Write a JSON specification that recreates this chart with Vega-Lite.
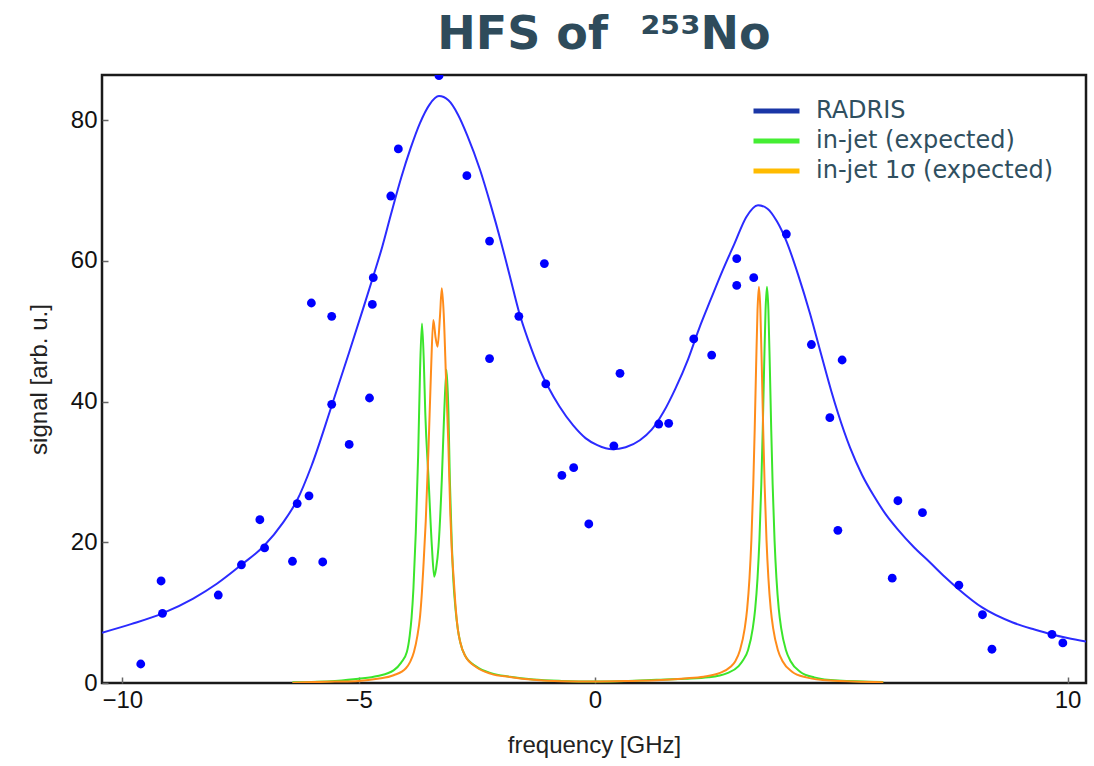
{
  "$schema": "https://vega.github.io/schema/vega-lite/v6.json",
  "width": 984,
  "height": 608,
  "autosize": "none",
  "padding": {"left": 102, "top": 75, "right": 8, "bottom": 83},
  "background": "white",
  "title": {
    "text": "HFS of\u2002\u2009²⁵³No",
    "font": "DejaVu Sans",
    "fontSize": 46,
    "fontWeight": "bold",
    "color": "#2e4b5b",
    "anchor": "middle",
    "dx": 10,
    "offset": 16
  },
  "config": {
    "view": {"stroke": "#1a1a1a", "strokeWidth": 2.5},
    "axis": {
      "grid": false,
      "domain": false,
      "labelFont": "Liberation Sans",
      "labelFontSize": 24,
      "labelColor": "#111",
      "titleFont": "Liberation Sans",
      "titleFontSize": 24,
      "titleFontWeight": "normal",
      "titleColor": "#222",
      "tickColor": "#666",
      "tickSize": 6,
      "tickWidth": 1.5,
      "offset": -6
    },
    "legend": {
      "orient": "none",
      "legendX": 649,
      "legendY": 21,
      "symbolType": "stroke",
      "symbolSize": 2116,
      "symbolStrokeWidth": 5,
      "symbolOpacity": 1,
      "labelFont": "DejaVu Sans",
      "labelFontSize": 24,
      "labelColor": "#2f4f5f",
      "labelOffset": 14,
      "labelLimit": 500,
      "clipHeight": 30,
      "rowPadding": 0,
      "title": null
    }
  },
  "datasets": {
    "curve": [
      {"s": "RADRIS", "f": -10.43, "v": 7.15},
      {"s": "RADRIS", "f": -9.8, "v": 8.4},
      {"s": "RADRIS", "f": -9.15, "v": 9.9},
      {"s": "RADRIS", "f": -8.5, "v": 12.0},
      {"s": "RADRIS", "f": -8.0, "v": 14.1},
      {"s": "RADRIS", "f": -7.48, "v": 16.8},
      {"s": "RADRIS", "f": -7.0, "v": 19.5},
      {"s": "RADRIS", "f": -6.6, "v": 22.8},
      {"s": "RADRIS", "f": -6.3, "v": 26.0},
      {"s": "RADRIS", "f": -6.0, "v": 30.8},
      {"s": "RADRIS", "f": -5.57, "v": 39.4},
      {"s": "RADRIS", "f": -5.2, "v": 47.0},
      {"s": "RADRIS", "f": -4.9, "v": 53.3},
      {"s": "RADRIS", "f": -4.69, "v": 57.8},
      {"s": "RADRIS", "f": -4.5, "v": 62.0},
      {"s": "RADRIS", "f": -4.32, "v": 66.5},
      {"s": "RADRIS", "f": -4.1, "v": 71.8},
      {"s": "RADRIS", "f": -3.9, "v": 76.0},
      {"s": "RADRIS", "f": -3.7, "v": 79.6},
      {"s": "RADRIS", "f": -3.5, "v": 82.2},
      {"s": "RADRIS", "f": -3.3, "v": 83.4},
      {"s": "RADRIS", "f": -3.1, "v": 82.8},
      {"s": "RADRIS", "f": -2.9, "v": 80.8},
      {"s": "RADRIS", "f": -2.7, "v": 77.8},
      {"s": "RADRIS", "f": -2.43, "v": 72.9},
      {"s": "RADRIS", "f": -2.2, "v": 67.8},
      {"s": "RADRIS", "f": -2.0, "v": 63.0},
      {"s": "RADRIS", "f": -1.8, "v": 57.8},
      {"s": "RADRIS", "f": -1.61, "v": 52.8},
      {"s": "RADRIS", "f": -1.4, "v": 48.5},
      {"s": "RADRIS", "f": -1.2, "v": 45.0},
      {"s": "RADRIS", "f": -1.0, "v": 42.2},
      {"s": "RADRIS", "f": -0.75, "v": 39.3},
      {"s": "RADRIS", "f": -0.46, "v": 36.6},
      {"s": "RADRIS", "f": -0.2, "v": 34.8},
      {"s": "RADRIS", "f": 0.05, "v": 33.8},
      {"s": "RADRIS", "f": 0.37, "v": 33.2},
      {"s": "RADRIS", "f": 0.65, "v": 33.5},
      {"s": "RADRIS", "f": 0.95, "v": 34.5},
      {"s": "RADRIS", "f": 1.2, "v": 36.0},
      {"s": "RADRIS", "f": 1.45, "v": 38.5},
      {"s": "RADRIS", "f": 1.7, "v": 41.8},
      {"s": "RADRIS", "f": 1.97, "v": 46.0},
      {"s": "RADRIS", "f": 2.2, "v": 50.3},
      {"s": "RADRIS", "f": 2.45, "v": 54.5},
      {"s": "RADRIS", "f": 2.7, "v": 58.6},
      {"s": "RADRIS", "f": 2.95, "v": 62.4},
      {"s": "RADRIS", "f": 3.2, "v": 66.2},
      {"s": "RADRIS", "f": 3.45, "v": 67.9},
      {"s": "RADRIS", "f": 3.65, "v": 67.4},
      {"s": "RADRIS", "f": 3.85, "v": 65.6},
      {"s": "RADRIS", "f": 4.05, "v": 62.8},
      {"s": "RADRIS", "f": 4.3, "v": 58.0},
      {"s": "RADRIS", "f": 4.55, "v": 52.5},
      {"s": "RADRIS", "f": 4.79, "v": 46.6},
      {"s": "RADRIS", "f": 5.0, "v": 41.5},
      {"s": "RADRIS", "f": 5.14, "v": 38.4},
      {"s": "RADRIS", "f": 5.4, "v": 33.4},
      {"s": "RADRIS", "f": 5.65, "v": 29.6},
      {"s": "RADRIS", "f": 5.9, "v": 26.6},
      {"s": "RADRIS", "f": 6.15, "v": 24.0},
      {"s": "RADRIS", "f": 6.41, "v": 21.8},
      {"s": "RADRIS", "f": 6.75, "v": 19.3},
      {"s": "RADRIS", "f": 7.08, "v": 17.2},
      {"s": "RADRIS", "f": 7.4, "v": 15.1},
      {"s": "RADRIS", "f": 7.7, "v": 13.3},
      {"s": "RADRIS", "f": 8.2, "v": 10.7},
      {"s": "RADRIS", "f": 8.84, "v": 8.6},
      {"s": "RADRIS", "f": 9.3, "v": 7.6},
      {"s": "RADRIS", "f": 9.67, "v": 6.9},
      {"s": "RADRIS", "f": 10.0, "v": 6.4},
      {"s": "RADRIS", "f": 10.39, "v": 5.9},

      {"s": "in-jet (expected)", "f": -6.4, "v": 0.1},
      {"s": "in-jet (expected)", "f": -5.5, "v": 0.3},
      {"s": "in-jet (expected)", "f": -5.0, "v": 0.6},
      {"s": "in-jet (expected)", "f": -4.6, "v": 1.0},
      {"s": "in-jet (expected)", "f": -4.26, "v": 1.8},
      {"s": "in-jet (expected)", "f": -4.1, "v": 2.9},
      {"s": "in-jet (expected)", "f": -3.98, "v": 4.4},
      {"s": "in-jet (expected)", "f": -3.92, "v": 6.7},
      {"s": "in-jet (expected)", "f": -3.88, "v": 9.3},
      {"s": "in-jet (expected)", "f": -3.84, "v": 13.5},
      {"s": "in-jet (expected)", "f": -3.79, "v": 21.5},
      {"s": "in-jet (expected)", "f": -3.74, "v": 32.5},
      {"s": "in-jet (expected)", "f": -3.7, "v": 44.5},
      {"s": "in-jet (expected)", "f": -3.66, "v": 51.1},
      {"s": "in-jet (expected)", "f": -3.62, "v": 45.5},
      {"s": "in-jet (expected)", "f": -3.59, "v": 38.4},
      {"s": "in-jet (expected)", "f": -3.52, "v": 28.9},
      {"s": "in-jet (expected)", "f": -3.45, "v": 19.4},
      {"s": "in-jet (expected)", "f": -3.4, "v": 15.1},
      {"s": "in-jet (expected)", "f": -3.36, "v": 16.3},
      {"s": "in-jet (expected)", "f": -3.31, "v": 19.4},
      {"s": "in-jet (expected)", "f": -3.24, "v": 28.9},
      {"s": "in-jet (expected)", "f": -3.19, "v": 38.3},
      {"s": "in-jet (expected)", "f": -3.14, "v": 44.5},
      {"s": "in-jet (expected)", "f": -3.1, "v": 38.5},
      {"s": "in-jet (expected)", "f": -3.07, "v": 28.9},
      {"s": "in-jet (expected)", "f": -3.03, "v": 20.0},
      {"s": "in-jet (expected)", "f": -3.0, "v": 15.1},
      {"s": "in-jet (expected)", "f": -2.95, "v": 10.5},
      {"s": "in-jet (expected)", "f": -2.9, "v": 7.6},
      {"s": "in-jet (expected)", "f": -2.85, "v": 5.8},
      {"s": "in-jet (expected)", "f": -2.75, "v": 3.9},
      {"s": "in-jet (expected)", "f": -2.5, "v": 2.3},
      {"s": "in-jet (expected)", "f": -2.2, "v": 1.4},
      {"s": "in-jet (expected)", "f": -1.8, "v": 0.9},
      {"s": "in-jet (expected)", "f": -1.3, "v": 0.5},
      {"s": "in-jet (expected)", "f": -0.7, "v": 0.3},
      {"s": "in-jet (expected)", "f": 0.0, "v": 0.22},
      {"s": "in-jet (expected)", "f": 0.7, "v": 0.3},
      {"s": "in-jet (expected)", "f": 1.3, "v": 0.45},
      {"s": "in-jet (expected)", "f": 1.9, "v": 0.6},
      {"s": "in-jet (expected)", "f": 2.4, "v": 0.8},
      {"s": "in-jet (expected)", "f": 2.8, "v": 1.4},
      {"s": "in-jet (expected)", "f": 3.04, "v": 2.4},
      {"s": "in-jet (expected)", "f": 3.14, "v": 3.3},
      {"s": "in-jet (expected)", "f": 3.24, "v": 4.7},
      {"s": "in-jet (expected)", "f": 3.34, "v": 7.8},
      {"s": "in-jet (expected)", "f": 3.39, "v": 10.5},
      {"s": "in-jet (expected)", "f": 3.44, "v": 14.9},
      {"s": "in-jet (expected)", "f": 3.48, "v": 20.3},
      {"s": "in-jet (expected)", "f": 3.52, "v": 28.2},
      {"s": "in-jet (expected)", "f": 3.55, "v": 36.0},
      {"s": "in-jet (expected)", "f": 3.58, "v": 45.0},
      {"s": "in-jet (expected)", "f": 3.61, "v": 53.0},
      {"s": "in-jet (expected)", "f": 3.64, "v": 56.3},
      {"s": "in-jet (expected)", "f": 3.67, "v": 53.0},
      {"s": "in-jet (expected)", "f": 3.7, "v": 45.0},
      {"s": "in-jet (expected)", "f": 3.73, "v": 36.0},
      {"s": "in-jet (expected)", "f": 3.76, "v": 28.2},
      {"s": "in-jet (expected)", "f": 3.8, "v": 20.3},
      {"s": "in-jet (expected)", "f": 3.84, "v": 14.9},
      {"s": "in-jet (expected)", "f": 3.89, "v": 10.5},
      {"s": "in-jet (expected)", "f": 3.94, "v": 7.8},
      {"s": "in-jet (expected)", "f": 4.04, "v": 4.7},
      {"s": "in-jet (expected)", "f": 4.14, "v": 3.1},
      {"s": "in-jet (expected)", "f": 4.34, "v": 1.6},
      {"s": "in-jet (expected)", "f": 4.64, "v": 0.8},
      {"s": "in-jet (expected)", "f": 5.14, "v": 0.35},
      {"s": "in-jet (expected)", "f": 6.1, "v": 0.15},

      {"s": "in-jet 1σ (expected)", "f": -6.4, "v": 0.05},
      {"s": "in-jet 1σ (expected)", "f": -5.5, "v": 0.2},
      {"s": "in-jet 1σ (expected)", "f": -5.0, "v": 0.3},
      {"s": "in-jet 1σ (expected)", "f": -4.6, "v": 0.6},
      {"s": "in-jet 1σ (expected)", "f": -4.26, "v": 1.1},
      {"s": "in-jet 1σ (expected)", "f": -4.0, "v": 2.1},
      {"s": "in-jet 1σ (expected)", "f": -3.91, "v": 3.0},
      {"s": "in-jet 1σ (expected)", "f": -3.83, "v": 4.4},
      {"s": "in-jet 1σ (expected)", "f": -3.76, "v": 6.6},
      {"s": "in-jet 1σ (expected)", "f": -3.7, "v": 9.5},
      {"s": "in-jet 1σ (expected)", "f": -3.66, "v": 13.0},
      {"s": "in-jet 1σ (expected)", "f": -3.63, "v": 16.5},
      {"s": "in-jet 1σ (expected)", "f": -3.58, "v": 23.0},
      {"s": "in-jet 1σ (expected)", "f": -3.52, "v": 33.6},
      {"s": "in-jet 1σ (expected)", "f": -3.47, "v": 44.0},
      {"s": "in-jet 1σ (expected)", "f": -3.42, "v": 51.6},
      {"s": "in-jet 1σ (expected)", "f": -3.37, "v": 49.0},
      {"s": "in-jet 1σ (expected)", "f": -3.33, "v": 47.8},
      {"s": "in-jet 1σ (expected)", "f": -3.28, "v": 52.0},
      {"s": "in-jet 1σ (expected)", "f": -3.24, "v": 56.1},
      {"s": "in-jet 1σ (expected)", "f": -3.2, "v": 52.5},
      {"s": "in-jet 1σ (expected)", "f": -3.15, "v": 43.0},
      {"s": "in-jet 1σ (expected)", "f": -3.1, "v": 33.6},
      {"s": "in-jet 1σ (expected)", "f": -3.06, "v": 24.0},
      {"s": "in-jet 1σ (expected)", "f": -3.03, "v": 19.0},
      {"s": "in-jet 1σ (expected)", "f": -2.99, "v": 15.0},
      {"s": "in-jet 1σ (expected)", "f": -2.95, "v": 11.0},
      {"s": "in-jet 1σ (expected)", "f": -2.9, "v": 7.6},
      {"s": "in-jet 1σ (expected)", "f": -2.85, "v": 5.8},
      {"s": "in-jet 1σ (expected)", "f": -2.75, "v": 3.9},
      {"s": "in-jet 1σ (expected)", "f": -2.5, "v": 2.2},
      {"s": "in-jet 1σ (expected)", "f": -2.2, "v": 1.3},
      {"s": "in-jet 1σ (expected)", "f": -1.8, "v": 0.85},
      {"s": "in-jet 1σ (expected)", "f": -1.3, "v": 0.45},
      {"s": "in-jet 1σ (expected)", "f": -0.7, "v": 0.25},
      {"s": "in-jet 1σ (expected)", "f": 0.0, "v": 0.2},
      {"s": "in-jet 1σ (expected)", "f": 0.7, "v": 0.28},
      {"s": "in-jet 1σ (expected)", "f": 1.3, "v": 0.4},
      {"s": "in-jet 1σ (expected)", "f": 1.9, "v": 0.65},
      {"s": "in-jet 1σ (expected)", "f": 2.3, "v": 0.9},
      {"s": "in-jet 1σ (expected)", "f": 2.63, "v": 1.4},
      {"s": "in-jet 1σ (expected)", "f": 2.87, "v": 2.3},
      {"s": "in-jet 1σ (expected)", "f": 2.97, "v": 3.1},
      {"s": "in-jet 1σ (expected)", "f": 3.07, "v": 4.7},
      {"s": "in-jet 1σ (expected)", "f": 3.17, "v": 7.8},
      {"s": "in-jet 1σ (expected)", "f": 3.22, "v": 10.5},
      {"s": "in-jet 1σ (expected)", "f": 3.27, "v": 14.9},
      {"s": "in-jet 1σ (expected)", "f": 3.31, "v": 20.3},
      {"s": "in-jet 1σ (expected)", "f": 3.35, "v": 28.2},
      {"s": "in-jet 1σ (expected)", "f": 3.38, "v": 36.0},
      {"s": "in-jet 1σ (expected)", "f": 3.41, "v": 45.0},
      {"s": "in-jet 1σ (expected)", "f": 3.44, "v": 53.0},
      {"s": "in-jet 1σ (expected)", "f": 3.47, "v": 56.3},
      {"s": "in-jet 1σ (expected)", "f": 3.5, "v": 53.0},
      {"s": "in-jet 1σ (expected)", "f": 3.53, "v": 45.0},
      {"s": "in-jet 1σ (expected)", "f": 3.56, "v": 36.0},
      {"s": "in-jet 1σ (expected)", "f": 3.59, "v": 28.2},
      {"s": "in-jet 1σ (expected)", "f": 3.63, "v": 20.3},
      {"s": "in-jet 1σ (expected)", "f": 3.67, "v": 14.9},
      {"s": "in-jet 1σ (expected)", "f": 3.72, "v": 10.5},
      {"s": "in-jet 1σ (expected)", "f": 3.77, "v": 7.8},
      {"s": "in-jet 1σ (expected)", "f": 3.87, "v": 4.7},
      {"s": "in-jet 1σ (expected)", "f": 3.97, "v": 3.1},
      {"s": "in-jet 1σ (expected)", "f": 4.17, "v": 1.6},
      {"s": "in-jet 1σ (expected)", "f": 4.47, "v": 0.8},
      {"s": "in-jet 1σ (expected)", "f": 4.97, "v": 0.35},
      {"s": "in-jet 1σ (expected)", "f": 6.1, "v": 0.12}
    ],
    "pts": [
      {"f": -9.61, "v": 2.7}, {"f": -9.18, "v": 14.5}, {"f": -9.15, "v": 9.9},
      {"f": -7.97, "v": 12.5}, {"f": -7.48, "v": 16.8}, {"f": -7.09, "v": 23.2},
      {"f": -6.99, "v": 19.2}, {"f": -6.4, "v": 17.3}, {"f": -6.3, "v": 25.5},
      {"f": -6.05, "v": 26.6}, {"f": -6.0, "v": 54.0}, {"f": -5.76, "v": 17.2},
      {"f": -5.57, "v": 52.1}, {"f": -5.57, "v": 39.6}, {"f": -5.2, "v": 33.9},
      {"f": -4.77, "v": 40.5}, {"f": -4.71, "v": 53.8}, {"f": -4.69, "v": 57.6},
      {"f": -4.32, "v": 69.2}, {"f": -4.16, "v": 75.9}, {"f": -3.3, "v": 86.3},
      {"f": -2.71, "v": 72.1}, {"f": -2.23, "v": 62.8}, {"f": -2.23, "v": 46.1},
      {"f": -1.61, "v": 52.1}, {"f": -1.07, "v": 59.6}, {"f": -1.04, "v": 42.5},
      {"f": -0.7, "v": 29.5}, {"f": -0.45, "v": 30.6}, {"f": -0.13, "v": 22.6},
      {"f": 0.4, "v": 33.7}, {"f": 0.53, "v": 44.0}, {"f": 1.35, "v": 36.8},
      {"f": 1.56, "v": 36.9}, {"f": 2.09, "v": 48.9}, {"f": 2.47, "v": 46.6},
      {"f": 3.0, "v": 60.3}, {"f": 3.0, "v": 56.5}, {"f": 3.36, "v": 57.6},
      {"f": 4.05, "v": 63.8}, {"f": 4.58, "v": 48.1}, {"f": 4.97, "v": 37.7},
      {"f": 5.14, "v": 21.7}, {"f": 5.23, "v": 45.9}, {"f": 6.29, "v": 14.9},
      {"f": 6.41, "v": 25.9}, {"f": 6.93, "v": 24.2}, {"f": 7.7, "v": 13.9},
      {"f": 8.2, "v": 9.7}, {"f": 8.4, "v": 4.8}, {"f": 9.67, "v": 6.9},
      {"f": 9.9, "v": 5.7}
    ]
  },
  "encoding": {
    "x": {
      "field": "f",
      "type": "quantitative",
      "scale": {"domain": [-10.43, 10.39], "nice": false, "zero": false},
      "axis": {"title": "frequency [GHz]", "values": [-10, -5, 0, 10], "labelPadding": 5, "titlePadding": 21}
    },
    "y": {
      "field": "v",
      "type": "quantitative",
      "scale": {"domain": [0, 86.4], "nice": false},
      "axis": {"title": "signal [arb. u.]", "values": [0, 20, 40, 60, 80], "labelPadding": 5, "titlePadding": 19}
    }
  },
  "layer": [
    {
      "data": {"name": "curve"},
      "mark": {"type": "line", "interpolate": "monotone", "opacity": 0, "clip": true},
      "encoding": {
        "stroke": {
          "field": "s",
          "type": "nominal",
          "scale": {
            "domain": ["RADRIS", "in-jet (expected)", "in-jet 1σ (expected)"],
            "range": ["#1a36a6", "#44ee33", "#ffbb00"]
          },
          "legend": {"symbolOpacity": 1}
        }
      }
    },
    {
      "data": {"name": "curve"},
      "mark": {"type": "line", "interpolate": "monotone", "strokeWidth": 2, "clip": true},
      "encoding": {
        "color": {
          "field": "s",
          "type": "nominal",
          "scale": {
            "domain": ["RADRIS", "in-jet (expected)", "in-jet 1σ (expected)"],
            "range": ["#2b2bff", "#3be52b", "#ff8c1a"]
          },
          "legend": null
        }
      }
    },
    {
      "data": {"name": "pts"},
      "mark": {"type": "circle", "size": 78, "color": "#0000ff", "opacity": 1, "clip": true}
    }
  ]
}
